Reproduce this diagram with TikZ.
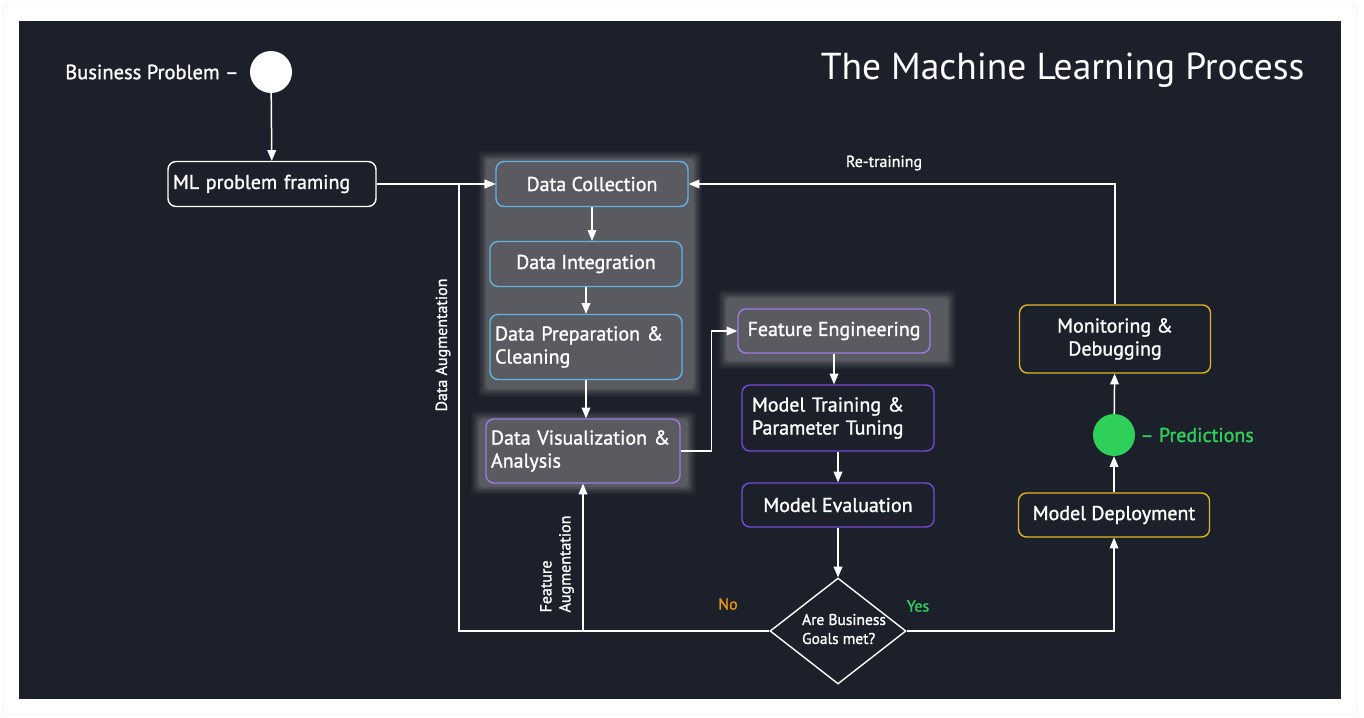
\documentclass[tikz,border=0pt]{standalone}
\usepackage{tikz}
\usepackage{xcolor}
\usepackage{fontspec}
\setmainfont{PT Sans}[FakeBold=1.3]
\newfontfamily\titlefont{PT Sans}
\usetikzlibrary{calc,
	positioning,
	shapes,
	arrows}
\definecolor{bgdark}{RGB}{28,32,43}
\definecolor{glow}{RGB}{90,91,97}
\definecolor{blu}{RGB}{96,180,228}
\definecolor{lilac}{RGB}{160,122,230}
\definecolor{violet}{RGB}{118,74,214}
\definecolor{gold}{RGB}{226,180,36}
\definecolor{grn}{RGB}{46,208,90}
\definecolor{orng}{RGB}{232,150,20}
\tikzstyle{box}=[draw, rounded corners=8pt, line width=1.4pt, text=white,
		minimum height=45pt, font=\fontsize{20}{23}\selectfont]
\tikzstyle{dbox}=[box, draw=blu, fill=glow, minimum width=192pt]
\tikzstyle{fbox}=[box, draw=lilac, fill=glow, minimum width=192pt]
\tikzstyle{mbox}=[box, draw=violet, fill=bgdark, minimum width=192pt]
\tikzstyle{obox}=[box, draw=gold, fill=bgdark, minimum width=191pt]
\tikzstyle{two}=[text width=182pt, align=left, inner xsep=5pt]
\tikzstyle{dot}=[circle, minimum size=42pt, inner sep=0]
\tikzstyle{lbl}=[text=white, font=\fontsize{16}{19}\selectfont]
\tikzstyle{arr}=[draw=white, line width=1.5pt, -triangle 45]
\tikzstyle{halo}=[fill=glow, rounded corners=4pt]

\begin{document}
\begin{tikzpicture}[x=1pt, y=-1pt]
	\useasboundingbox (0,0) rectangle (1364,717);
	\fill[white] (0,0) rectangle (1364,717);
	\draw[black!10, rounded corners=4pt] (3,5) rectangle (1357,714);
	\fill[bgdark] (19,21) rectangle (1341,699);

	% soft grey halos
	\foreach \g/\o in {8/0.12, 6/0.2, 4/0.3, 2/0.5, 0/1} {
		\fill[halo, opacity=\o] (486-\g,159-\g) rectangle (694+\g,389+\g);
		\fill[halo, opacity=\o] (479-\g,419-\g) rectangle (688+\g,487+\g);
		\fill[halo, opacity=\o] (726-\g,298-\g) rectangle (948+\g,361+\g);
	}

	\node[anchor=east, text=white, font=\titlefont\fontsize{37.5}{44}\selectfont] (title) at (1308,70) {The Machine Learning Process};

	\node[dot, fill=white] (bp) at (271,72) {};
	\node[left=11pt of bp, text=white, font=\fontsize{20.5}{23}\selectfont, inner sep=0] (bpl) {Business Problem --};
	\node[box, draw=white, fill=bgdark, minimum width=208pt, text width=198pt, align=left, inner xsep=5pt] (frame) at (272,184) {ML problem framing};

	\node[dbox] (coll) at (592,184) {Data Collection};
	\node[dbox] (integ) at (586,264) {Data Integration};
	\node[dbox, two, minimum height=65pt] (prep) at (586,347) {Data Preparation \&\\Cleaning};
	\node[fbox, two, minimum height=64pt, text width=184pt] (vis) at (583,451) {Data Visualization \&\\Analysis};

	\node[fbox, minimum height=44pt] (feat) at (834,331) {Feature Engineering};
	\node[mbox, two, minimum height=66pt, inner xsep=10pt, text width=172pt] (train) at (838,418) {Model Training \&\\Parameter Tuning};
	\node[mbox, minimum height=44pt] (eval) at (838,505) {Model Evaluation};
	\node[diamond, draw=white, line width=1.4pt, fill=bgdark, minimum width=136pt, minimum height=106pt, inner sep=0,
		label={[lbl, font=\fontsize{15.5}{19}\selectfont, align=left, xshift=6pt, yshift=2pt]center:Are Business\\Goals met?}] (goal) at (838,631) {};

	\node[obox, minimum height=44pt] (deploy) at (1114,515) {Model Deployment};
	\node[dot, fill=grn] (pred) at (1114,435) {};
	\node[right=5pt of pred, text=grn, font=\fontsize{20}{23}\selectfont, inner sep=0] (predl) {-- Predictions};
	\node[obox, align=center, minimum height=68pt] (mon) at (1115,339) {Monitoring \&\\Debugging};

	% labels
	\node[lbl] (retr) at (884,163) {Re-training};
	\node[lbl, rotate=90] (daug) at (443,345) {Data Augmentation};
	\node[lbl, rotate=90, align=left] (faug) at (557,564) {Feature\\Augmentation};
	\node[lbl, text=orng] (no) at (728,604) {No};
	\node[lbl, text=grn] (yes) at (918,606) {Yes};

	\coordinate (back) at (459,631);

	% connectors
	\draw[arr] (bp) -- (frame);
	\draw[arr] (frame) -- (coll);
	\draw[arr] (coll.south) -- (coll.south |- integ.north);
	\draw[arr] (integ) -- (prep);
	\draw[arr] (prep.south) -- (prep.south |- vis.north);
	\draw[arr] (vis.east) -- ++(31,0) |- (feat.west);
	\draw[arr] (feat.south) -- (feat.south |- train.north);
	\draw[arr] (train) -- (eval);
	\draw[arr] (eval) -- (goal);
	\draw[arr] (goal.west) -- (back) |- (coll.west);
	\draw[arr] (vis.south |- goal.west) -- (vis.south);
	\draw[arr] (goal.east) -| (deploy.south);
	\draw[arr] (deploy) -- (pred);
	\draw[arr] (pred) -- (mon);
	\draw[arr] (mon.north) |- (coll.east);
\end{tikzpicture}
\end{document}
